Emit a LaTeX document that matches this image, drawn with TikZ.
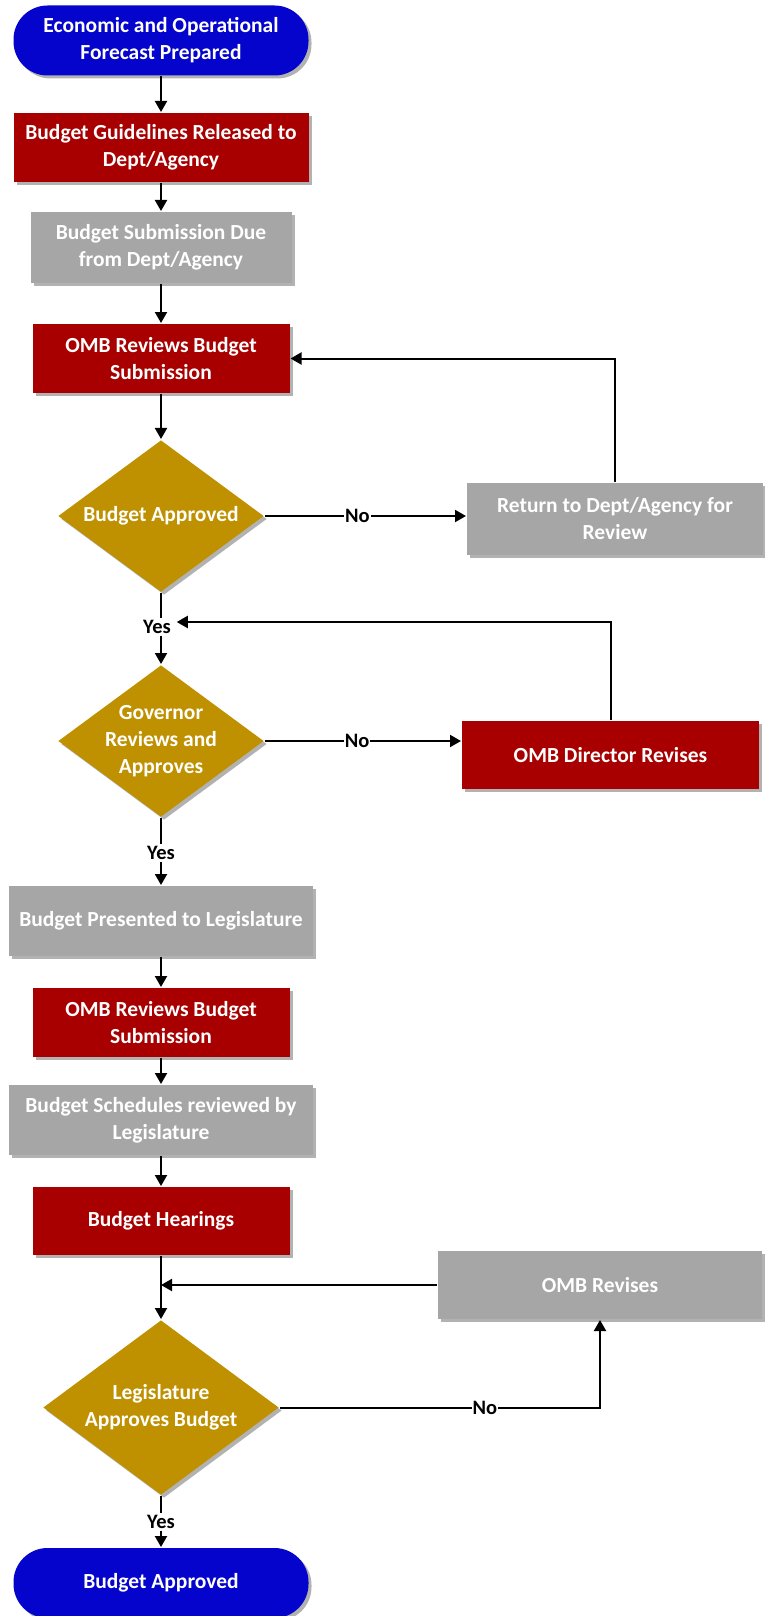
\documentclass[tikz,border=0pt]{standalone}
\usepackage{fontspec}
\setmainfont{Carlito}
\usepackage{tikz}
\usetikzlibrary{positioning, shapes.geometric, arrows.meta, shadows}

\definecolor{termblue}{RGB}{4,4,204}
\definecolor{stepred}{RGB}{168,0,0}
\definecolor{stepgray}{RGB}{166,166,166}
\definecolor{askgold}{RGB}{191,144,0}

\begin{document}
\begin{tikzpicture}[x=1pt, y=-1pt, >={Triangle[length=11pt,width=12pt]}, line width=2pt,
    shade/.style={drop shadow={shadow xshift=3pt, shadow yshift=-3pt, opacity=0.3, fill=black}},
    txt/.style={text=white, font=\fontsize{21.5}{27}\selectfont\bfseries, align=center},
    term/.style={txt, rectangle, rounded corners=34pt, fill=termblue, minimum width=295pt, minimum height=70pt, shade},
    redbox/.style={txt, rectangle, fill=stepred, minimum height=69pt, inner sep=0pt, shade},
    graybox/.style={txt, rectangle, fill=stepgray, minimum height=70pt, inner sep=0pt, shade},
    decision/.style={diamond, fill=askgold, inner sep=0pt, shade},
    lbl/.style={text=black, font=\fontsize{20.5}{24}\selectfont\bfseries, fill=white, inner sep=1pt}]
    \useasboundingbox (0,0) rectangle (764,1616);

    % Nodes
    \node[term] (start) at (161, 40.5) {Economic and Operational\\Forecast Prepared};
    \node[redbox, minimum width=295pt] (guide) at (161, 147.5) {Budget Guidelines Released to\\Dept/Agency};
    \node[graybox, minimum width=261pt, minimum height=71pt] (due) at (161, 247.5) {Budget Submission Due\\from Dept/Agency};
    \node[redbox, minimum width=257pt] (omb1) at (161, 358.5) {OMB Reviews Budget\\Submission};
    \node[decision, minimum width=206pt, minimum height=152pt] (d1) at (161, 516) {};
    \node[txt] at (d1) {Budget Approved};
    \node[graybox, minimum width=296pt, minimum height=72pt] (ret) at (615, 519) {Return to Dept/Agency for\\Review};
    \node[decision, minimum width=206pt, minimum height=152pt] (d2) at (161, 741) {};
    \node[txt] at (d2) {Governor\\Reviews and\\Approves};
    \node[redbox, minimum width=297pt, minimum height=68pt] (dir) at (610.5, 755) {OMB Director Revises};
    \node[graybox, minimum width=304pt] (pres) at (161, 921) {Budget Presented to Legislature};
    \node[redbox, minimum width=257pt] (omb2) at (161, 1022.5) {OMB Reviews Budget\\Submission};
    \node[graybox, minimum width=304pt] (sched) at (161, 1120) {Budget Schedules reviewed by\\Legislature};
    \node[redbox, minimum width=257pt, minimum height=68pt] (hear) at (161, 1221) {Budget Hearings};
    \node[graybox, minimum width=324pt, minimum height=68pt] (rev) at (600, 1285) {OMB Revises};
    \node[decision, minimum width=236pt, minimum height=175pt] (d3) at (161, 1407.5) {};
    \node[txt] at (d3) {Legislature\\Approves Budget};
    \node[term] (stop) at (161, 1583) {Budget Approved};

    % Yes labels
    \node[lbl] (yes1) at (157, 627) {Yes};
    \node[lbl] (yes2) at (161, 853) {Yes};
    \node[lbl] (yes3) at (161, 1522) {Yes};
    \coordinate (m3) at (161, 1285);

    % Edges
    \draw[->] (start) -- (guide);
    \draw[->] (guide) -- (due);
    \draw[->] (due) -- (omb1);
    \draw[->] (omb1) -- (d1);
    \draw (d1.south) -- (d1.south |- yes1.north);
    \draw[->] (d1.south |- yes1.south) -- (d2.north);
    \draw (d2.south) -- (yes2);
    \draw[->] (yes2) -- (pres);
    \draw[->] (pres) -- (omb2);
    \draw[->] (omb2) -- (sched);
    \draw[->] (sched) -- (hear);
    \draw[->] (hear) -- (d3.north);
    \draw (d3.south) -- (yes3);
    \draw[->] (yes3) -- (stop);

    % No branches
    \draw[->] (d1.east) -- node[lbl, pos=0.46] {No} (d1.east -| ret.west);
    \draw[->] (d2.east) -- node[lbl, pos=0.47] {No} (dir.west |- d2.east);
    \draw[->] (d3.east) -| node[lbl, pos=0.32] {No} (rev.south);

    % Return lines
    \draw[->] (ret.north) |- (omb1.east);
    \draw[->] (dir.north) |- ([xshift=4pt, yshift=5pt]yes1.east);
    \draw[->] (rev.west) -- (m3);
\end{tikzpicture}
\end{document}
